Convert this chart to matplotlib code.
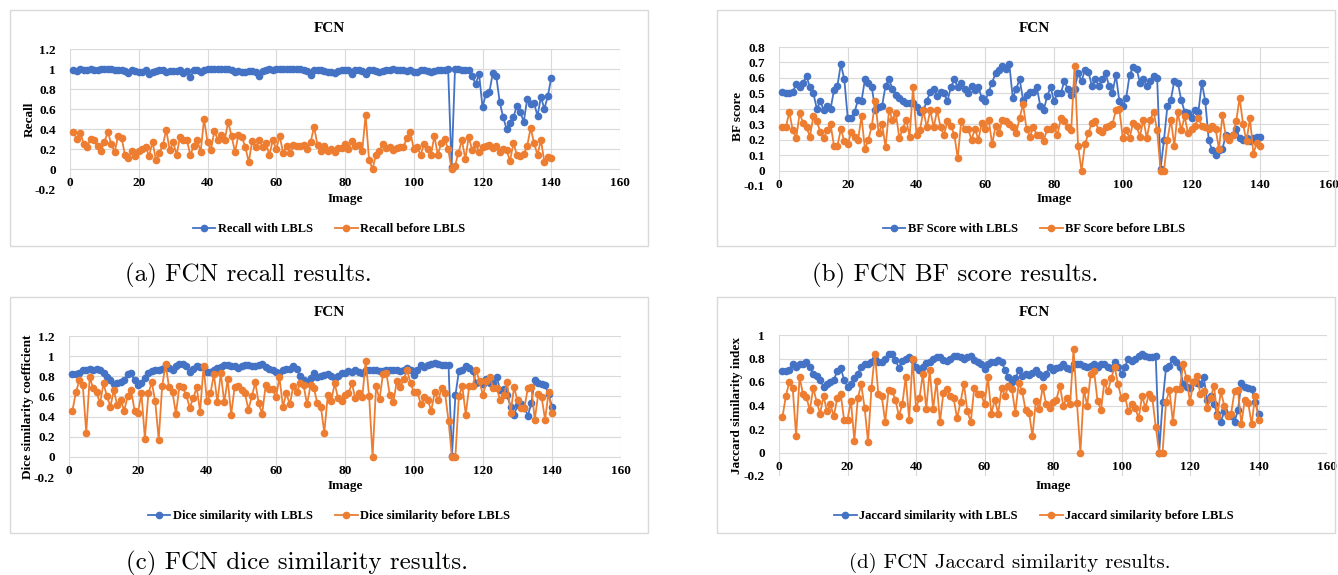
import numpy as np
import matplotlib
matplotlib.use("Agg")
import matplotlib.pyplot as plt
from matplotlib.patches import Rectangle
from matplotlib.lines import Line2D
from matplotlib.ticker import FuncFormatter

# ---------------- data ----------------
images = list(range(1, 141))

recall_with = [
    0.99,0.98,1.0,0.99,0.99,1.0,0.99,0.99,1.0,1.0,
    1.0,1.0,0.99,0.99,0.99,0.98,0.96,0.99,0.98,0.97,
    0.97,0.99,0.95,0.97,0.98,0.99,0.99,0.97,0.98,0.98,
    0.98,0.99,0.96,0.98,0.92,0.99,0.99,0.97,0.99,1.0,
    1.0,1.0,1.0,1.0,1.0,1.0,0.99,0.97,0.98,0.97,
    0.97,0.98,0.98,0.97,0.93,0.98,0.99,1.0,0.99,1.0,
    1.0,1.0,1.0,1.0,1.0,1.0,1.0,0.99,0.98,0.94,
    0.99,0.99,0.99,0.98,0.97,0.97,0.96,0.98,0.99,0.99,
    0.99,0.95,0.99,0.99,0.98,0.95,0.99,0.99,0.98,0.97,
    0.98,0.99,0.99,1.0,0.99,0.99,0.99,0.98,0.99,0.97,
    0.97,0.99,0.99,0.98,0.97,0.98,0.99,0.99,0.99,1.0,
    0.02,1.0,1.0,0.99,0.99,0.99,0.93,0.85,0.95,0.62,
    0.75,0.77,0.96,0.93,0.67,0.52,0.40,0.46,0.52,0.63,
    0.57,0.47,0.70,0.65,0.66,0.53,0.72,0.60,0.73,0.91]
recall_before = [
    0.37,0.30,0.36,0.25,0.22,0.30,0.29,0.23,0.18,0.27,
    0.37,0.25,0.17,0.33,0.31,0.14,0.11,0.18,0.13,0.18,
    0.20,0.22,0.13,0.27,0.09,0.16,0.24,0.39,0.19,0.27,
    0.14,0.32,0.29,0.29,0.14,0.23,0.29,0.17,0.50,0.27,
    0.19,0.38,0.29,0.34,0.29,0.47,0.33,0.17,0.34,0.32,
    0.22,0.07,0.28,0.22,0.29,0.22,0.26,0.14,0.29,0.20,
    0.33,0.16,0.23,0.16,0.24,0.23,0.23,0.24,0.20,0.27,
    0.42,0.24,0.18,0.23,0.18,0.20,0.17,0.21,0.21,0.25,
    0.20,0.28,0.23,0.24,0.18,0.54,0.09,0.00,0.14,0.18,
    0.25,0.21,0.22,0.19,0.21,0.22,0.22,0.31,0.37,0.20,
    0.22,0.14,0.25,0.20,0.14,0.33,0.14,0.26,0.30,0.20,
    0.00,0.03,0.16,0.29,0.10,0.32,0.19,0.25,0.17,0.22,
    0.23,0.24,0.21,0.23,0.17,0.20,0.19,0.08,0.26,0.14,
    0.13,0.15,0.23,0.41,0.26,0.14,0.29,0.07,0.12,0.11]

bf_with = [
    0.51,0.50,0.50,0.51,0.56,0.54,0.57,0.61,0.54,0.50,
    0.40,0.45,0.39,0.42,0.40,0.52,0.55,0.69,0.59,0.34,
    0.34,0.38,0.46,0.45,0.59,0.57,0.54,0.39,0.41,0.42,
    0.55,0.59,0.53,0.49,0.47,0.45,0.44,0.44,0.44,0.41,
    0.38,0.39,0.45,0.51,0.53,0.48,0.51,0.50,0.45,0.54,
    0.59,0.54,0.57,0.53,0.50,0.55,0.52,0.54,0.47,0.45,
    0.51,0.57,0.63,0.65,0.68,0.66,0.69,0.47,0.53,0.59,
    0.46,0.49,0.51,0.51,0.54,0.42,0.39,0.48,0.54,0.45,
    0.50,0.50,0.58,0.53,0.49,0.53,0.63,0.58,0.65,0.64,
    0.55,0.59,0.55,0.59,0.63,0.55,0.50,0.62,0.45,0.42,
    0.47,0.62,0.67,0.66,0.57,0.59,0.55,0.58,0.61,0.60,
    0.01,0.20,0.42,0.46,0.58,0.57,0.46,0.38,0.37,0.34,
    0.39,0.38,0.57,0.45,0.20,0.13,0.10,0.13,0.14,0.23,
    0.22,0.23,0.27,0.21,0.20,0.21,0.19,0.21,0.22,0.22]
bf_before = [
    0.28,0.28,0.38,0.26,0.21,0.37,0.31,0.28,0.22,0.35,
    0.32,0.25,0.21,0.26,0.30,0.16,0.16,0.27,0.19,0.17,
    0.25,0.22,0.20,0.35,0.14,0.20,0.29,0.45,0.24,0.30,
    0.15,0.39,0.33,0.37,0.21,0.27,0.33,0.22,0.54,0.23,
    0.26,0.39,0.28,0.39,0.28,0.39,0.28,0.23,0.32,0.29,
    0.23,0.08,0.32,0.27,0.27,0.20,0.27,0.20,0.31,0.27,
    0.33,0.17,0.29,0.24,0.33,0.32,0.30,0.28,0.24,0.34,
    0.43,0.27,0.22,0.28,0.23,0.23,0.19,0.27,0.27,0.29,
    0.23,0.34,0.32,0.28,0.26,0.68,0.16,0.00,0.17,0.24,
    0.31,0.32,0.26,0.25,0.28,0.29,0.30,0.39,0.40,0.21,
    0.26,0.21,0.31,0.29,0.22,0.33,0.21,0.33,0.38,0.26,
    0.00,0.00,0.20,0.33,0.16,0.38,0.26,0.35,0.24,0.27,
    0.29,0.34,0.29,0.28,0.27,0.29,0.27,0.14,0.36,0.22,
    0.20,0.23,0.32,0.47,0.30,0.19,0.34,0.11,0.18,0.16]

dice_with = [
    0.82,0.82,0.83,0.86,0.86,0.87,0.86,0.87,0.86,0.83,
    0.79,0.76,0.72,0.73,0.74,0.76,0.82,0.83,0.76,0.71,
    0.73,0.78,0.83,0.85,0.86,0.86,0.87,0.91,0.88,0.86,
    0.90,0.92,0.92,0.90,0.84,0.87,0.90,0.89,0.89,0.84,
    0.84,0.86,0.88,0.89,0.91,0.91,0.90,0.90,0.88,0.90,
    0.91,0.91,0.90,0.90,0.91,0.92,0.89,0.87,0.86,0.84,
    0.83,0.86,0.87,0.87,0.90,0.87,0.80,0.76,0.74,0.78,
    0.83,0.79,0.80,0.81,0.82,0.80,0.78,0.80,0.83,0.83,
    0.85,0.84,0.86,0.84,0.83,0.86,0.86,0.86,0.86,0.85,
    0.85,0.86,0.86,0.86,0.86,0.85,0.86,0.88,0.86,0.81,
    0.86,0.91,0.89,0.91,0.92,0.93,0.92,0.91,0.91,0.91,
    0.01,0.61,0.85,0.86,0.90,0.88,0.85,0.73,0.74,0.72,
    0.77,0.73,0.73,0.79,0.66,0.67,0.61,0.50,0.42,0.51,
    0.52,0.49,0.41,0.53,0.76,0.73,0.72,0.71,0.62,0.50]
dice_before = [
    0.46,0.64,0.76,0.71,0.24,0.79,0.68,0.64,0.53,0.73,
    0.60,0.50,0.66,0.51,0.56,0.46,0.60,0.66,0.46,0.44,
    0.63,0.18,0.63,0.74,0.55,0.17,0.70,0.92,0.69,0.64,
    0.43,0.70,0.69,0.61,0.49,0.58,0.69,0.45,0.90,0.55,
    0.63,0.82,0.54,0.83,0.54,0.77,0.42,0.69,0.70,0.66,
    0.63,0.47,0.60,0.74,0.53,0.43,0.71,0.67,0.67,0.59,
    0.79,0.50,0.63,0.52,0.70,0.64,0.73,0.71,0.52,0.71,
    0.68,0.53,0.50,0.24,0.61,0.55,0.73,0.58,0.55,0.61,
    0.63,0.73,0.58,0.63,0.59,0.95,0.60,0.00,0.70,0.57,
    0.82,0.83,0.61,0.54,0.75,0.69,0.77,0.86,0.73,0.64,
    0.64,0.52,0.59,0.56,0.46,0.64,0.56,0.68,0.63,0.36,
    0.00,0.00,0.60,0.70,0.42,0.70,0.70,0.86,0.75,0.61,
    0.75,0.79,0.68,0.68,0.56,0.61,0.74,0.44,0.69,0.56,
    0.49,0.49,0.68,0.69,0.37,0.62,0.59,0.37,0.64,0.44]

jacc_with = [
    0.69,0.69,0.70,0.75,0.73,0.75,0.75,0.77,0.73,0.67,
    0.65,0.62,0.56,0.58,0.60,0.62,0.69,0.72,0.62,0.56,
    0.58,0.63,0.67,0.73,0.75,0.75,0.77,0.80,0.77,0.77,
    0.80,0.84,0.84,0.79,0.72,0.78,0.80,0.81,0.79,0.73,
    0.70,0.73,0.76,0.77,0.80,0.81,0.81,0.79,0.78,0.80,
    0.82,0.82,0.81,0.80,0.81,0.82,0.79,0.77,0.75,0.71,
    0.75,0.77,0.77,0.79,0.77,0.70,0.64,0.60,0.63,0.70,
    0.65,0.67,0.66,0.68,0.70,0.67,0.64,0.67,0.73,0.70,
    0.72,0.73,0.75,0.72,0.71,0.75,0.75,0.75,0.74,0.73,
    0.74,0.75,0.73,0.75,0.75,0.73,0.72,0.77,0.73,0.67,
    0.73,0.80,0.78,0.80,0.82,0.84,0.82,0.81,0.81,0.82,
    0.00,0.43,0.72,0.74,0.80,0.77,0.73,0.58,0.56,0.55,
    0.60,0.59,0.58,0.64,0.45,0.48,0.41,0.33,0.26,0.35,
    0.32,0.31,0.26,0.36,0.59,0.56,0.55,0.54,0.43,0.33]
jacc_before = [
    0.30,0.48,0.60,0.55,0.14,0.64,0.50,0.47,0.36,0.55,
    0.43,0.33,0.48,0.35,0.41,0.31,0.46,0.50,0.28,0.28,
    0.44,0.10,0.46,0.58,0.38,0.09,0.55,0.84,0.50,0.48,
    0.26,0.53,0.52,0.45,0.31,0.41,0.64,0.28,0.80,0.38,
    0.46,0.67,0.37,0.70,0.37,0.61,0.26,0.51,0.54,0.48,
    0.46,0.29,0.43,0.58,0.35,0.26,0.55,0.50,0.50,0.41,
    0.64,0.33,0.45,0.33,0.55,0.48,0.57,0.54,0.34,0.59,
    0.52,0.36,0.34,0.14,0.44,0.37,0.56,0.41,0.38,0.43,
    0.45,0.57,0.40,0.46,0.41,0.88,0.42,0.00,0.53,0.40,
    0.67,0.69,0.44,0.36,0.60,0.52,0.63,0.73,0.58,0.46,
    0.48,0.35,0.41,0.38,0.29,0.48,0.38,0.50,0.46,0.22,
    0.00,0.00,0.43,0.53,0.26,0.54,0.54,0.75,0.63,0.43,
    0.60,0.65,0.50,0.52,0.38,0.46,0.57,0.31,0.52,0.40,
    0.31,0.33,0.52,0.53,0.24,0.45,0.42,0.24,0.48,0.28]

x_ticks = [0, 20, 40, 60, 80, 100, 120, 140, 160]

# ---------------- style ----------------
W, H = 1338, 575
BLUE = "#4472C4"
ORANGE = "#ED7D31"
GRID = "#D9D9D9"
plt.rcParams["font.family"] = ["Liberation Serif", "DejaVu Serif"]
plt.rcParams["font.weight"] = "bold"
plt.rcParams["axes.unicode_minus"] = False

fig = plt.figure(figsize=(W / 100, H / 100), dpi=100)
fig.patch.set_facecolor("white")


def rect(l, t, r, b):
    return [l / W, 1 - b / H, (r - l) / W, (b - t) / H]


def fx(x):
    return x / W


def fy(y):
    return 1 - y / H


panels = [
    dict(box=(10, 10, 648, 246), plot=(70, 49, 620, 189), ylim=(-0.2, 1.2), step=0.2,
         ylabel="Recall", ylx=30, y_with=recall_with, y_before=recall_before, cx=329,
         labels=("Recall with LBLS", "Recall before LBLS"), title_y=28, xl_y=199, leg_y=229,
         caption="(a) FCN recall results.", cap=(248, 275), capsize=18),
    dict(box=(717, 10, 1335, 246), plot=(779, 47, 1329, 186), ylim=(-0.1, 0.8), step=0.1,
         ylabel="BF score", ylx=738, y_with=bf_with, y_before=bf_before, cx=1034,
         labels=("BF Score with LBLS", "BF Score before LBLS"), title_y=28, xl_y=199, leg_y=229,
         caption="(b) FCN BF score results.", cap=(955, 275), capsize=18),
    dict(box=(10, 297, 648, 533), plot=(69, 336, 621, 477), ylim=(-0.2, 1.2), step=0.2,
         ylabel="Dice similarity coefficient", ylx=28, y_with=dice_with, y_before=dice_before,
         cx=329, labels=("Dice similarity with LBLS", "Dice similarity before LBLS"),
         title_y=313, xl_y=486, leg_y=516, caption="(c) FCN dice similarity results.",
         cap=(297, 563), capsize=18),
    dict(box=(717, 297, 1335, 533), plot=(779, 335, 1327, 476), ylim=(-0.2, 1.0), step=0.2,
         ylabel="Jaccard similarity index", ylx=737, y_with=jacc_with, y_before=jacc_before,
         cx=1034, labels=("Jaccard similarity with LBLS", "Jaccard similarity before LBLS"),
         title_y=313, xl_y=486, leg_y=516, caption="(d) FCN Jaccard similarity results.",
         cap=(1010, 563), capsize=15),
]

fmt = FuncFormatter(lambda v, p: f"{round(v, 2) + 0.0:g}")

for p in panels:
    l, t, r, b = p["box"]
    fig.add_artist(Rectangle((fx(l), fy(b)), (r - l) / W, (b - t) / H,
                             transform=fig.transFigure, fill=False,
                             edgecolor=GRID, lw=1.0))
    pl, pt, pr, pb = p["plot"]
    ax = fig.add_axes(rect(pl, pt, pr, pb))
    ax.plot(images, p["y_with"], color=BLUE, marker="o", ms=4.5, lw=1.3,
            label=p["labels"][0], clip_on=False, zorder=3)
    ax.plot(images, p["y_before"], color=ORANGE, marker="o", ms=4.5, lw=1.3,
            label=p["labels"][1], clip_on=False, zorder=3)
    ax.set_xlim(0, 160)
    ax.set_ylim(*p["ylim"])
    ax.set_xticks(x_ticks)
    lo, hi = p["ylim"]
    ax.set_yticks(np.arange(lo, hi + p["step"] / 2, p["step"]))
    ax.yaxis.set_major_formatter(fmt)
    ax.grid(True, color=GRID, lw=0.8)
    ax.set_axisbelow(True)
    ax.spines["bottom"].set_position(("data", 0))
    for s in ax.spines.values():
        s.set_visible(False)
    ax.tick_params(length=0, labelsize=9.5)
    ax.tick_params(axis="y", pad=10)
    ax.tick_params(axis="x", pad=6)

    cx = p["cx"]
    fig.text(fx(cx), fy(p["title_y"]), "FCN", ha="center", va="center", fontsize=11)
    fig.text(fx((pl + pr) / 2), fy(p["xl_y"]), "Image", ha="center", va="center", fontsize=9.5)
    fig.text(fx(p["ylx"]), fy((pt + pb) / 2), p["ylabel"], ha="center", va="center",
             rotation=90, fontsize=9.5)
    handles = [Line2D([], [], color=BLUE, marker="o", ms=4.5, lw=1.3),
               Line2D([], [], color=ORANGE, marker="o", ms=4.5, lw=1.3)]
    fig.legend(handles, p["labels"], loc="center", bbox_to_anchor=(fx(cx), fy(p["leg_y"])),
               ncol=2, frameon=False, fontsize=9, handlelength=1.8,
               handletextpad=0.2, columnspacing=1.8, borderpad=0)
    fig.text(fx(p["cap"][0]), fy(p["cap"][1]), p["caption"], ha="center", va="center",
             fontsize=p["capsize"], fontweight="normal", family=["cmr10", "DejaVu Serif"])

fig.savefig("out.png", dpi=100, facecolor="white")
